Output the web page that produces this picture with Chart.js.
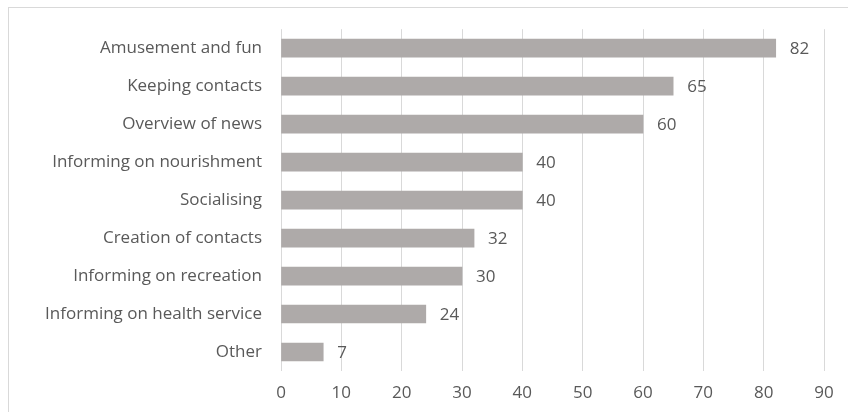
<!DOCTYPE html>
<html>
<head>
<meta charset="utf-8">
<script src="https://cdn.jsdelivr.net/npm/chart.js@4"></script>
<style>
  html, body { margin: 0; padding: 0; background: #fff; overflow: hidden; }
  #frame {
    position: absolute; left: 8px; top: 7px;
    width: 860px; height: 420px;
    border: 1px solid #d9d9d9;
    background: #fff;
  }
  #wrap { position: absolute; left: 0; top: 0; width: 839px; height: 404px; }
</style>
</head>
<body>
<div id="frame">
  <div id="wrap"><canvas id="chart"></canvas></div>
</div>
<script>
// Datos del gráfico
const categories = [
    'Amusement and fun',
    'Keeping contacts',
    'Overview of news',
    'Informing on nourishment',
    'Socialising',
    'Creation of contacts',
    'Informing on recreation',
    'Informing on health service',
    'Other'
];
const values = [82, 65, 60, 40, 40, 32, 30, 24, 7];
const xTicks = [0, 10, 20, 30, 40, 50, 60, 70, 80, 90];

const textColor = '#595959';
const fontFamily = '"Open Sans", sans-serif';
const fontSize = 17;

// Etiquetas de valor al final de cada barra
const valueLabels = {
    id: 'valueLabels',
    afterDatasetsDraw(chart) {
        const ctx = chart.ctx;
        const meta = chart.getDatasetMeta(0);
        ctx.save();
        ctx.fillStyle = textColor;
        ctx.font = fontSize + 'px ' + fontFamily;
        ctx.textAlign = 'left';
        ctx.textBaseline = 'middle';
        meta.data.forEach((bar, i) => {
            ctx.fillText(String(values[i]), bar.x + 14, bar.y + 1);
        });
        ctx.restore();
    }
};

new Chart(document.getElementById('chart'), {
    type: 'bar',
    data: {
        labels: categories,
        datasets: [{
            data: values,
            backgroundColor: '#aeaaa9',
            borderWidth: 0,
            barThickness: 18
        }]
    },
    options: {
        indexAxis: 'y',
        responsive: true,
        maintainAspectRatio: false,
        animation: false,
        layout: { padding: { top: 12, right: 24, bottom: 0, left: 0 } },
        plugins: {
            legend: { display: false },
            tooltip: { enabled: false }
        },
        scales: {
            x: {
                min: 0,
                max: 90,
                afterBuildTicks(axis) {
                    axis.ticks = xTicks.map(v => ({ value: v }));
                },
                afterFit(axis) { axis.height = 41; },
                grid: { color: '#d9d9d9', lineWidth: 1, drawTicks: false },
                border: { display: false },
                ticks: {
                    color: textColor,
                    font: { family: fontFamily, size: fontSize },
                    padding: 12
                }
            },
            y: {
                afterFit(axis) { axis.width = 272; },
                grid: { display: false },
                border: { display: false },
                ticks: {
                    color: textColor,
                    font: { family: fontFamily, size: fontSize },
                    padding: 11
                }
            }
        }
    },
    plugins: [valueLabels]
});
</script>
</body>
</html>
